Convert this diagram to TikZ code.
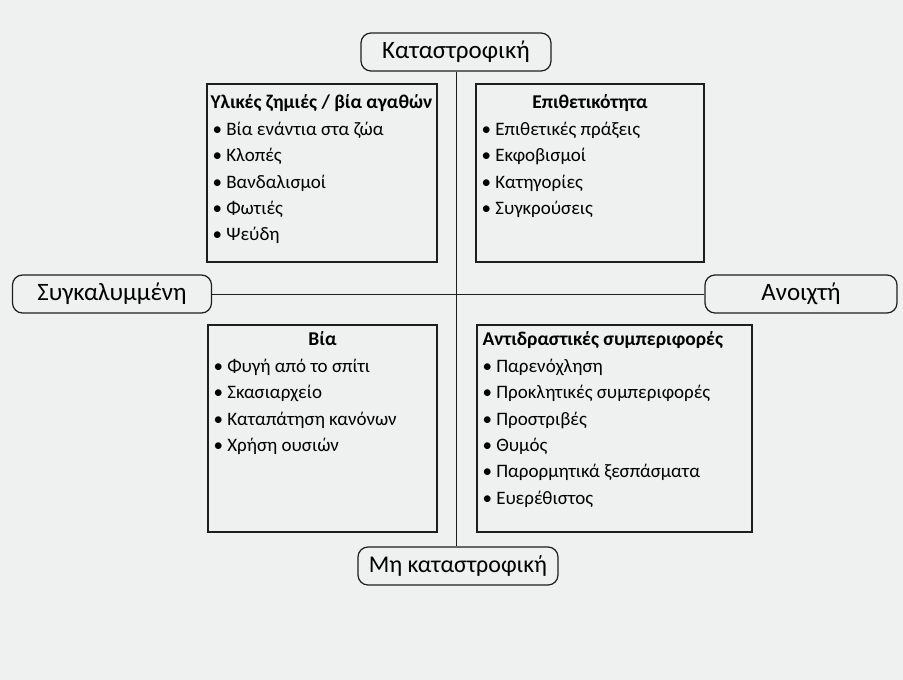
\documentclass[tikz,border=0pt]{standalone}
\usepackage{fontspec}
\setmainfont{Carlito}
\usetikzlibrary{positioning,calc}
\definecolor{paper}{RGB}{238,241,240}
\definecolor{ink}{RGB}{30,30,30}

\begin{document}
\begin{tikzpicture}[x=1pt, y=-1pt,
  pole/.style={draw=ink, line width=1.2pt, rounded corners=10pt, fill=paper, minimum width=190pt, minimum height=38pt, inner sep=0pt, font=\fontsize{25}{28}\selectfont},
  box/.style={draw=ink, line width=1.3pt, fill=paper, inner sep=0pt},
  head/.style={font=\fontsize{19.5}{22}\selectfont\bfseries, inner sep=0pt, text height=14pt, text depth=5pt},
  item/.style={font=\fontsize{19}{22}\selectfont, inner sep=0pt, anchor=west, text height=14pt, text depth=5pt}]
  \useasboundingbox (0,0) rectangle (903,680);
  \fill[paper] (0,0) rectangle (903,680);
  % axis ends
  \node[pole] (top) at (456,52) {Καταστροφική};
  \node[pole, minimum width=200pt, font=\fontsize{24}{27}\selectfont] (bot) at (458,566) {Μη καταστροφική};
  \node[pole, minimum width=199pt] (left) at (112,294) {Συγκαλυμμένη};
  \node[pole, minimum width=192pt] (right) at (801,294) {Ανοιχτή};
  \draw[ink, line width=1pt] (top) -- (top |- bot.north);
  \draw[ink, line width=1pt] (left) -- (right);
  % quadrants
  \node[box, minimum width=230pt, minimum height=178pt] (ul) at (322,173) {};
  \node[box, minimum width=228pt, minimum height=178pt] (ur) at (590,173) {};
  \node[box, minimum width=229pt, minimum height=207pt] (ll) at (322.5,428.5) {};
  \node[box, minimum width=275pt, minimum height=207pt] (lr) at (614.5,428.5) {};
  \node[head, anchor=west] (ul-h) at ($(ul.north west)+(4,21)$) {Υλικές ζημιές / βία αγαθών};
  \node[head] (ur-h) at ($(ur.north)+(0,21)$) {Επιθετικότητα};
  \node[head] (ll-h) at ($(ll.north)+(0,17)$) {Βία};
  \node[head, anchor=west] (lr-h) at ($(lr.north west)+(6,17)$) {Αντιδραστικές συμπεριφορές};
  \foreach \txt [count=\i] in {Βία ενάντια στα ζώα, Κλοπές, Βανδαλισμοί, Φωτιές, Ψεύδη}
    \node[item] (ul-\i) at ($(ul-h.center -| ul.west)+(6,26.4*\i)$) {\textbullet\ \txt};
  \foreach \txt [count=\i] in {Επιθετικές πράξεις, Εκφοβισμοί, Κατηγορίες, Συγκρούσεις}
    \node[item] (ur-\i) at ($(ur-h.center -| ur.west)+(6,26.4*\i)$) {\textbullet\ \txt};
  \foreach \txt [count=\i] in {Φυγή από το σπίτι, Σκασιαρχείο, Καταπάτηση κανόνων, Χρήση ουσιών}
    \node[item] (ll-\i) at ($(ll-h.center -| ll.west)+(6,26.4*\i)$) {\textbullet\ \txt};
  \foreach \txt [count=\i] in {Παρενόχληση, Προκλητικές συμπεριφορές, Προστριβές, Θυμός, Παρορμητικά ξεσπάσματα, Ευερέθιστος}
    \node[item] (lr-\i) at ($(lr-h.center -| lr.west)+(6,26.4*\i)$) {\textbullet\ \txt};
\end{tikzpicture}
\end{document}
